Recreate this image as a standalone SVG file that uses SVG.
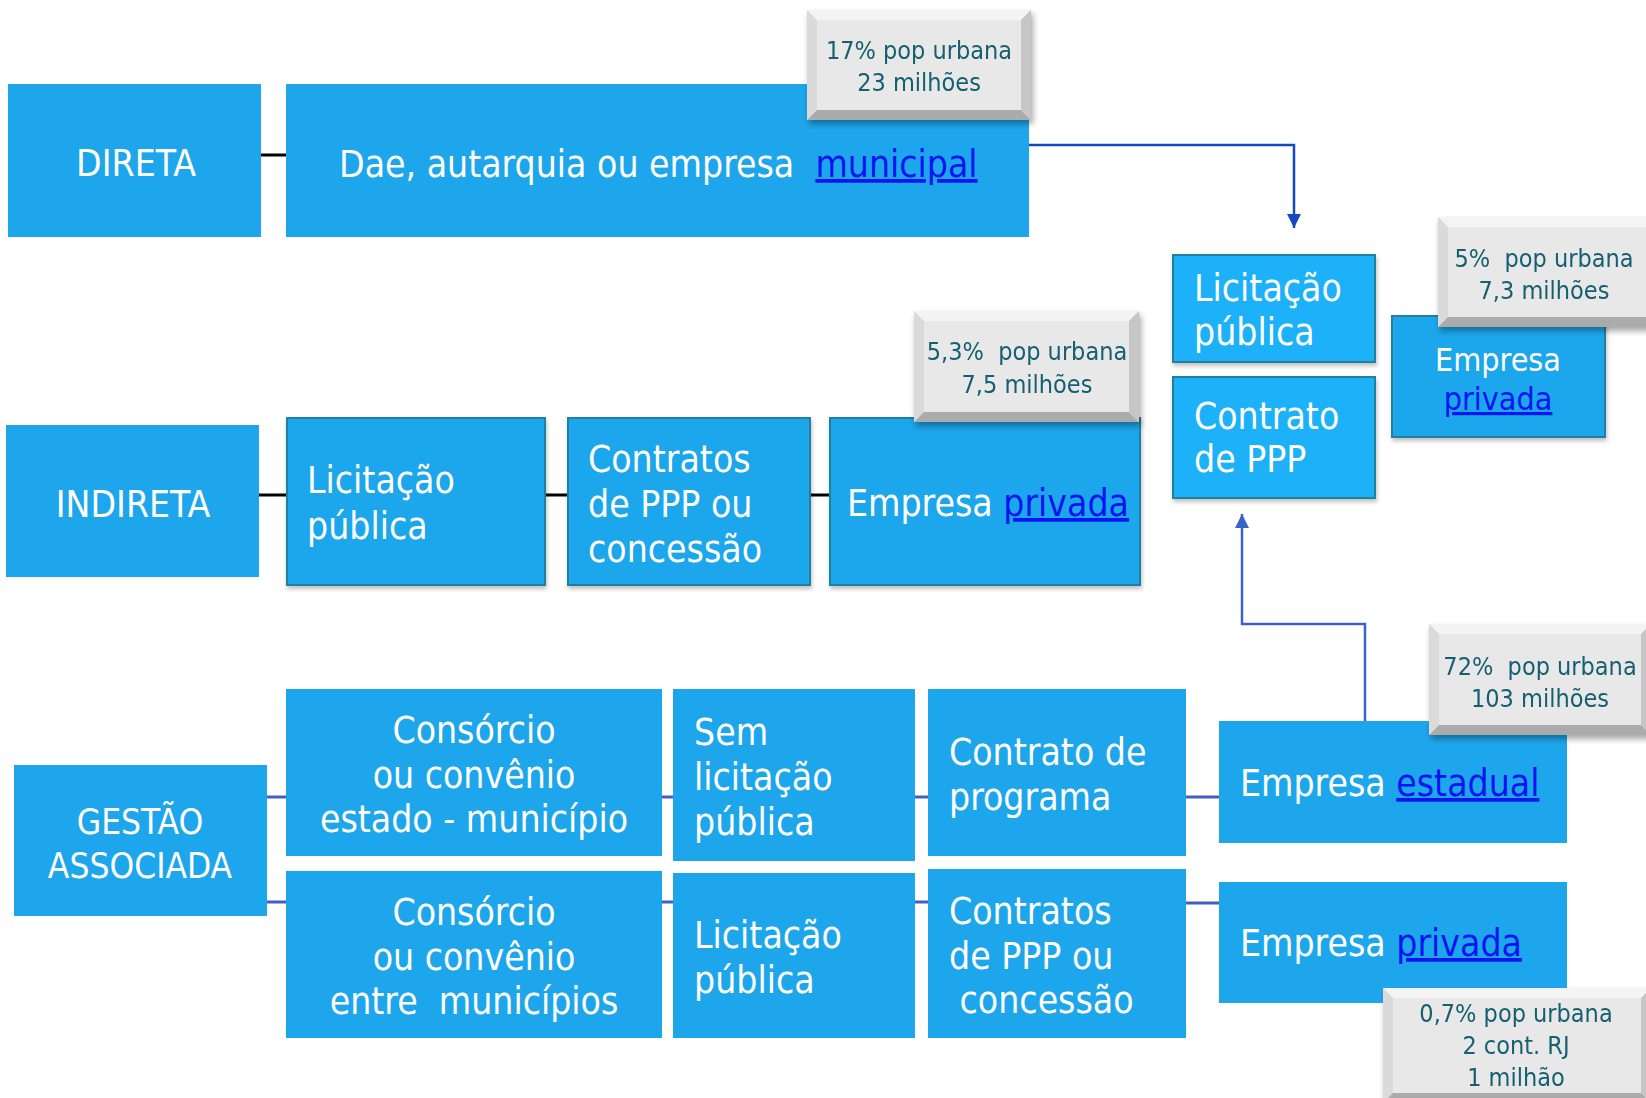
<svg xmlns="http://www.w3.org/2000/svg" width="1646" height="1098" viewBox="0 0 1646 1098">
<defs>
<style>
.box{fill:#1EA6EC;}
.boxs{fill:#1EA6EC;stroke:#22809F;stroke-width:2;}
.boxb{fill:#1DB1F9;stroke:#22809F;stroke-width:2;}
.t{font-family:"DejaVu Sans Condensed","DejaVu Sans",sans-serif;font-stretch:condensed;font-size:37px;fill:#FFFFFF;white-space:pre;}
.c{text-anchor:middle;}
.lnk{fill:#0A14F0;text-decoration:underline;}
.ct{font-family:"DejaVu Sans Condensed","DejaVu Sans",sans-serif;font-stretch:condensed;font-size:25px;fill:#145F70;text-anchor:middle;white-space:pre;}
.face{fill:#E8E8E8;}
.bt{fill:#F4F4F4;}
.bl{fill:#DADADA;}
.bb{fill:#ABABAB;}
.br{fill:#C6C6C6;}
.k{stroke:#000000;stroke-width:3;fill:none;}
.bl2{stroke:#3F5FC4;stroke-width:3;fill:none;}
.ar1{stroke:#1448C0;stroke-width:2.5;fill:none;}
.ar2{stroke:#3A63C8;stroke-width:2.5;fill:none;}
</style>
<filter id="sh" x="-10%" y="-10%" width="130%" height="140%">
<feDropShadow dx="2" dy="4" stdDeviation="3" flood-color="#000000" flood-opacity="0.35"/>
</filter>
<filter id="sh2" x="-10%" y="-10%" width="130%" height="140%">
<feDropShadow dx="1" dy="3" stdDeviation="2" flood-color="#000000" flood-opacity="0.25"/>
</filter>
<marker id="m1" markerWidth="16" markerHeight="16" refX="14" refY="7" orient="auto" markerUnits="userSpaceOnUse">
<path d="M0,0 L14,7 L0,14 Z" fill="#1448C0"/>
</marker>
<marker id="m2" markerWidth="16" markerHeight="16" refX="14" refY="7" orient="auto" markerUnits="userSpaceOnUse">
<path d="M0,0 L14,7 L0,14 Z" fill="#3A63C8"/>
</marker>
</defs>
<rect width="1646" height="1098" fill="#FFFFFF"/>

<g id="connectors">
<line class="k" x1="261" y1="155" x2="287" y2="155"/>
<line class="k" x1="259" y1="495" x2="288" y2="495"/>
<line class="k" x1="545" y1="495" x2="568" y2="495"/>
<line class="k" x1="810" y1="495" x2="830" y2="495"/>
<line class="bl2" x1="267" y1="797" x2="287" y2="797"/>
<line class="bl2" x1="267" y1="902" x2="287" y2="902"/>
<line class="bl2" x1="662" y1="797" x2="673" y2="797"/>
<line class="bl2" x1="662" y1="902" x2="673" y2="902"/>
<line class="bl2" x1="915" y1="797" x2="928" y2="797"/>
<line class="bl2" x1="915" y1="902" x2="928" y2="902"/>
<line class="bl2" x1="1186" y1="797" x2="1219" y2="797"/>
<line class="bl2" x1="1186" y1="903" x2="1219" y2="903"/>
<path class="ar1" d="M1029,145 H1294 V228" marker-end="url(#m1)"/>
<path class="ar2" d="M1365,721 V624 H1242 V514" marker-end="url(#m2)"/>
</g>

<g id="direta">
<rect class="box" x="8" y="84" width="253" height="153"/>
<text class="t c" x="136" y="176">DIRETA</text>
</g>

<g id="dae">
<rect class="box" x="286" y="84" width="743" height="153"/>
<text class="t" x="339" y="177">Dae, autarquia ou empresa  <tspan class="lnk">municipal</tspan></text>
</g>

<g id="callout-17" transform="translate(807,10)" filter="url(#sh)">
<rect class="face" x="0" y="0" width="224" height="110"/>
<polygon class="bt" points="0,0 224,0 214,10 10,10"/>
<polygon class="bl" points="0,0 10,10 10,100 0,110"/>
<polygon class="bb" points="0,110 10,100 214,100 224,110"/>
<polygon class="br" points="224,0 224,110 214,100 214,10"/>
<text class="ct" x="112" y="49">17% pop urbana</text>
<text class="ct" x="112" y="81">23 milhões</text>
</g>

<g id="indireta">
<rect class="box" x="6" y="425" width="253" height="152"/>
<text class="t c" x="133" y="517">INDIRETA</text>
</g>

<g id="licitacao-indireta">
<rect class="boxs" x="287" y="418" width="258" height="167" filter="url(#sh2)"/>
<text class="t" x="307" y="493">Licitação</text>
<text class="t" x="307" y="539">pública</text>
</g>

<g id="contratos-indireta">
<rect class="boxs" x="568" y="418" width="242" height="167" filter="url(#sh2)"/>
<text class="t" x="588" y="472">Contratos</text>
<text class="t" x="588" y="517">de PPP ou</text>
<text class="t" x="588" y="562">concessão</text>
</g>

<g id="empresa-privada-indireta">
<rect class="boxs" x="830" y="418" width="310" height="167" filter="url(#sh2)"/>
<text class="t" x="847" y="516">Empresa <tspan class="lnk">privada</tspan></text>
</g>

<g id="callout-53" transform="translate(914,311)" filter="url(#sh)">
<rect class="face" x="0" y="0" width="225" height="111"/>
<polygon class="bt" points="0,0 225,0 215,10 10,10"/>
<polygon class="bl" points="0,0 10,10 10,101 0,111"/>
<polygon class="bb" points="0,111 10,101 215,101 225,111"/>
<polygon class="br" points="225,0 225,111 215,101 215,10"/>
<text class="ct" x="113" y="49">5,3%  pop urbana</text>
<text class="ct" x="113" y="82">7,5 milhões</text>
</g>

<g id="licitacao-top">
<rect class="boxb" x="1173" y="255" width="202" height="107" filter="url(#sh2)"/>
<text class="t" x="1194" y="301">Licitação</text>
<text class="t" x="1194" y="345">pública</text>
</g>

<g id="contrato-ppp-top">
<rect class="boxb" x="1173" y="377" width="202" height="121" filter="url(#sh2)"/>
<text class="t" x="1194" y="429">Contrato</text>
<text class="t" x="1194" y="472">de PPP</text>
</g>

<g id="empresa-privada-right">
<rect class="boxs" x="1392" y="316" width="213" height="121" filter="url(#sh2)"/>
<text class="t c" x="1498" y="371" style="font-size:32px">Empresa</text>
<text class="t c lnk" x="1498" y="410" style="font-size:32px">privada</text>
</g>

<g id="callout-5" transform="translate(1438,217)" filter="url(#sh)">
<rect class="face" x="0" y="0" width="222" height="110"/>
<polygon class="bt" points="0,0 222,0 212,10 10,10"/>
<polygon class="bl" points="0,0 10,10 10,100 0,110"/>
<polygon class="bb" points="0,110 10,100 212,100 222,110"/>
<polygon class="br" points="222,0 222,110 212,100 212,10"/>
<text class="ct" x="106" y="50">5%  pop urbana</text>
<text class="ct" x="106" y="82">7,3 milhões</text>
</g>

<g id="gestao">
<rect class="box" x="14" y="765" width="253" height="151"/>
<text class="t c" x="140" y="834" style="font-size:35px">GESTÃO</text>
<text class="t c" x="140" y="878" style="font-size:35px">ASSOCIADA</text>
</g>

<g id="consorcio-estado">
<rect class="box" x="286" y="689" width="376" height="167"/>
<text class="t c" x="474" y="743">Consórcio</text>
<text class="t c" x="474" y="788">ou convênio</text>
<text class="t c" x="474" y="832">estado - município</text>
</g>

<g id="sem-licitacao">
<rect class="box" x="673" y="689" width="242" height="172"/>
<text class="t" x="694" y="745">Sem</text>
<text class="t" x="694" y="790">licitação</text>
<text class="t" x="694" y="835">pública</text>
</g>

<g id="contrato-programa">
<rect class="box" x="928" y="689" width="258" height="167"/>
<text class="t" x="949" y="765">Contrato de</text>
<text class="t" x="949" y="810">programa</text>
</g>

<g id="empresa-estadual">
<rect class="box" x="1219" y="721" width="348" height="122"/>
<text class="t" x="1240" y="796">Empresa <tspan class="lnk">estadual</tspan></text>
</g>

<g id="callout-72" transform="translate(1429,624)" filter="url(#sh)">
<rect class="face" x="0" y="0" width="222" height="111"/>
<polygon class="bt" points="0,0 222,0 212,10 10,10"/>
<polygon class="bl" points="0,0 10,10 10,101 0,111"/>
<polygon class="bb" points="0,111 10,101 212,101 222,111"/>
<polygon class="br" points="222,0 222,111 212,101 212,10"/>
<text class="ct" x="111" y="51">72%  pop urbana</text>
<text class="ct" x="111" y="83">103 milhões</text>
</g>

<g id="consorcio-municipios">
<rect class="box" x="286" y="871" width="376" height="167"/>
<text class="t c" x="474" y="925">Consórcio</text>
<text class="t c" x="474" y="970">ou convênio</text>
<text class="t c" x="474" y="1014">entre  municípios</text>
</g>

<g id="licitacao-bottom">
<rect class="box" x="673" y="873" width="242" height="165"/>
<text class="t" x="694" y="948">Licitação</text>
<text class="t" x="694" y="993">pública</text>
</g>

<g id="contratos-bottom">
<rect class="box" x="928" y="869" width="258" height="169"/>
<text class="t" x="949" y="924">Contratos</text>
<text class="t" x="949" y="969">de PPP ou</text>
<text class="t" x="949" y="1013"> concessão</text>
</g>

<g id="empresa-privada-bottom">
<rect class="box" x="1219" y="882" width="348" height="121"/>
<text class="t" x="1240" y="956">Empresa <tspan class="lnk">privada</tspan></text>
</g>

<g id="callout-07" transform="translate(1383,988)" filter="url(#sh)">
<rect class="face" x="0" y="0" width="268" height="115"/>
<polygon class="bt" points="0,0 268,0 258,10 10,10"/>
<polygon class="bl" points="0,0 10,10 10,105 0,115"/>
<polygon class="bb" points="0,115 10,105 258,105 268,115"/>
<polygon class="br" points="268,0 268,115 258,105 258,10"/>
<text class="ct" x="133" y="34">0,7% pop urbana</text>
<text class="ct" x="133" y="66">2 cont. RJ</text>
<text class="ct" x="133" y="98">1 milhão</text>
</g>
</svg>
